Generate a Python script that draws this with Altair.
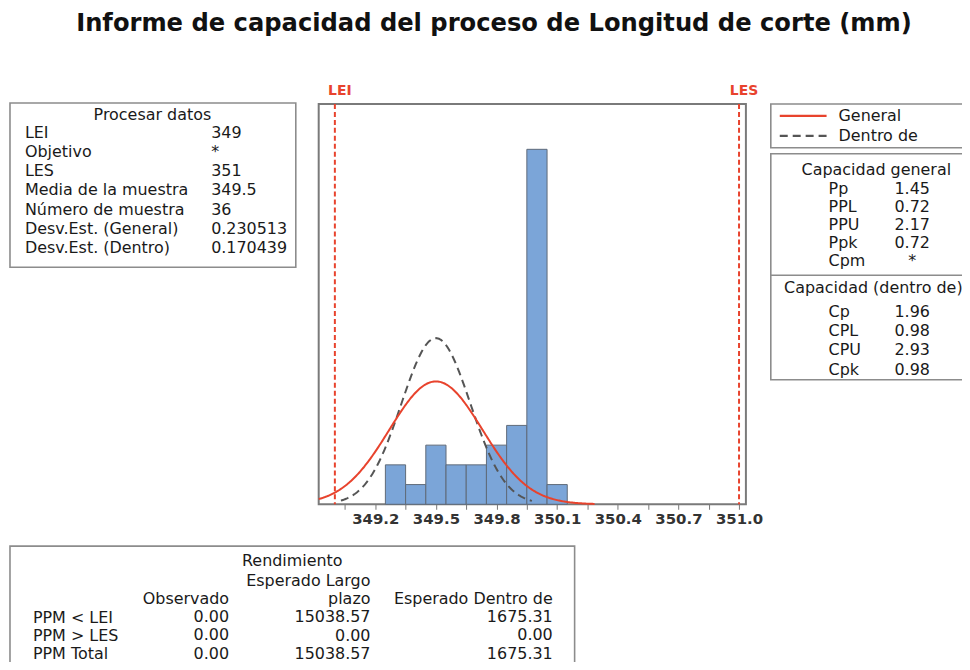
import altair as alt
import pandas as pd

# ---------------- data ----------------
title_text = "Informe de capacidad del proceso de Longitud de corte (mm)"

bin_starts = [349.25, 349.35, 349.45, 349.55, 349.65, 349.75, 349.85, 349.95, 350.05]
bin_width = 0.1
bin_counts = [2, 1, 3, 2, 2, 3, 4, 18, 1]

spec_names = ["LEI", "LES"]
spec_values = [349.0, 351.0]

sample_mean = 349.5
sample_n = 36
sd_overall = 0.230513
sd_within = 0.170439

axis_ticks = [349.05, 349.2, 349.35, 349.5, 349.65, 349.8, 349.95, 350.1, 350.25,
              350.4, 350.55, 350.7, 350.85, 351.0]

proc_title = "Procesar datos"
proc_labels = ["LEI", "Objetivo", "LES", "Media de la muestra", "Número de muestra",
               "Desv.Est. (General)", "Desv.Est. (Dentro)"]
proc_values = ["349", "*", "351", "349.5", "36", "0.230513", "0.170439"]

legend_labels = ["General", "Dentro de"]

cap_overall_title = "Capacidad general"
cap_overall_labels = ["Pp", "PPL", "PPU", "Ppk", "Cpm"]
cap_overall_values = ["1.45", "0.72", "2.17", "0.72", "*"]

cap_within_title = "Capacidad (dentro de)"
cap_within_labels = ["Cp", "CPL", "CPU", "Cpk"]
cap_within_values = ["1.96", "0.98", "2.93", "0.98"]

perf_title = "Rendimiento"
perf_rows = ["PPM < LEI", "PPM > LES", "PPM Total"]
perf_col_headers = [["Observado"], ["Esperado Largo", "plazo"], ["Esperado Dentro de"]]
perf_observed = ["0.00", "0.00", "0.00"]
perf_expected_long = ["15038.57", "0.00", "15038.57"]
perf_expected_within = ["1675.31", "0.00", "1675.31"]

# ---------------- styles ----------------
FONT = "DejaVu Sans"
RED = "#e8432d"
BLUE = "#7ba5d8"
BOX = "#8c8c8c"
TXT = "#1a1a1a"
FS = 16

one = pd.DataFrame({"d": [0]})

xscale = alt.Scale(domain=[348.92, 351.034], nice=False, zero=False)
yscale = alt.Scale(domain=[0, 20.3], nice=False, zero=True)
xaxis = alt.Axis(
    title=None, values=axis_ticks, domain=False, grid=False,
    tickColor="#777777", tickSize=5, tickWidth=1,
    labelExpr="round(datum.value*100) % 30 == 0 ? format(datum.value, '.1f') : ''",
    labelFont=FONT, labelFontWeight="bold", labelFontSize=15, labelColor="#333333",
    labelPadding=2, labelFlush=False, labelOverlap=False,
)


def box(x1, x2, y1, y2):
    return alt.Chart(one).mark_rect(fill="white", stroke=BOX, strokeWidth=1.6).encode(
        x=alt.value(x1), x2=alt.value(x2), y=alt.value(y1), y2=alt.value(y2))


def txt(lines, x, y, align="left", lh=19, size=FS, weight="normal", color=TXT, baseline="middle"):
    return alt.Chart(one).mark_text(
        text="\n".join(lines), lineBreak="\n", lineHeight=lh, align=align,
        baseline=baseline, font=FONT, fontSize=size, fontWeight=weight, color=color,
    ).encode(x=alt.value(x), y=alt.value(y))


def hrule(x1, x2, y, color, dash=None, width=1.6):
    kw = dict(color=color, strokeWidth=width)
    if dash:
        kw["strokeDash"] = dash
    return alt.Chart(one).mark_rule(**kw).encode(
        x=alt.value(x1), x2=alt.value(x2), y=alt.value(y))


# ---------------- plot layers ----------------
hist_df = pd.DataFrame({
    "start": bin_starts,
    "end": [b + bin_width for b in bin_starts],
    "count": bin_counts,
})
bars = alt.Chart(hist_df).mark_rect(fill=BLUE, stroke="#5f6a78", strokeWidth=1).encode(
    x=alt.X("start:Q", scale=xscale, axis=xaxis),
    x2="end:Q",
    y=alt.Y("count:Q", scale=yscale, axis=None),
    y2=alt.datum(0),
)

scale_factor = sample_n * bin_width


def normal_curve(x0, x1, sd, **mark_kw):
    expr = (f"{scale_factor} * exp(-0.5 * pow((datum.x - {sample_mean}) / {sd}, 2))"
            f" / ({sd} * sqrt(2 * PI))")
    return alt.Chart(alt.sequence(x0, x1, 0.005, as_="x")).transform_calculate(
        y=expr).mark_line(**mark_kw).encode(
        x=alt.X("x:Q", scale=xscale, axis=xaxis),
        y=alt.Y("y:Q", scale=yscale, axis=None),
    )


curve_within = normal_curve(349.03, 349.975, sd_within, color="#555555",
                            strokeWidth=2, strokeDash=[8, 5])
curve_overall = normal_curve(348.92, 350.285, sd_overall, color=RED, strokeWidth=2)

spec_df = pd.DataFrame({"name": spec_names, "v": spec_values})
spec_rules = alt.Chart(spec_df).mark_rule(color=RED, strokeWidth=2, strokeDash=[5, 3]).encode(
    x=alt.X("v:Q", scale=xscale, axis=xaxis))
spec_labels = alt.Chart(spec_df).mark_text(
    font=FONT, fontSize=14, fontWeight="bold", color=RED, dx=5, baseline="middle"
).encode(x=alt.X("v:Q", scale=xscale, axis=xaxis), y=alt.value(-13), text="name:N")

# ---------------- text panels (local coords, origin = plot top-left) ----------------
layers = [
    # title
    txt([title_text], 176, -73.5, align="center", size=24.3, weight="bold", color="#111111",
        baseline="alphabetic"),
    # process data box
    box(-310, -23, -1, 164),
    txt([proc_title], -167, 11, align="center"),
    txt(proc_labels, -295, 29, lh=19.3),
    txt(proc_values, -108, 29, lh=19.3),
    # legend box
    box(454, 700, 0, 44),
    hrule(463, 510, 12, RED, width=2.2),
    hrule(463, 510, 32, "#555555", dash=[8, 5], width=2.2),
    txt(legend_labels, 522, 12, lh=20),
    # capability box
    box(454, 700, 50, 277),
    hrule(454, 700, 172, BOX),
    txt([cap_overall_title], 560, 66, align="center"),
    txt(cap_overall_labels, 512, 85, lh=18.3),
    txt(cap_overall_values, 596, 85, lh=18.3, align="center"),
    txt([cap_within_title], 557, 185, align="center"),
    txt(cap_within_labels, 512, 208.7, lh=19.4),
    txt(cap_within_values, 596, 208.7, lh=19.4, align="center"),
    # performance box
    box(-310, 257, 444, 620),
    txt([perf_title], -26.5, 459, align="center"),
    txt(perf_rows, -287, 516, lh=18.3),
    txt(perf_col_headers[0] + perf_observed, -90, 497, lh=18.3, align="right"),
    txt(perf_col_headers[1] + perf_expected_long, 52, 479, lh=18.3, align="right"),
    txt(perf_col_headers[2] + perf_expected_within, 235, 497, lh=18.3, align="right"),
]

chart = alt.layer(
    *layers, bars, curve_within, curve_overall, spec_rules, spec_labels
).properties(
    width=429, height=402,
    padding={"left": 312, "top": 95, "right": 217, "bottom": 157},
    autosize=alt.AutoSizeParams(type="none"),
    background="white",
).configure_view(stroke="#7a7a7a", strokeWidth=2)

chart.save("out.html", embed_options={"renderer": "svg", "actions": False})
